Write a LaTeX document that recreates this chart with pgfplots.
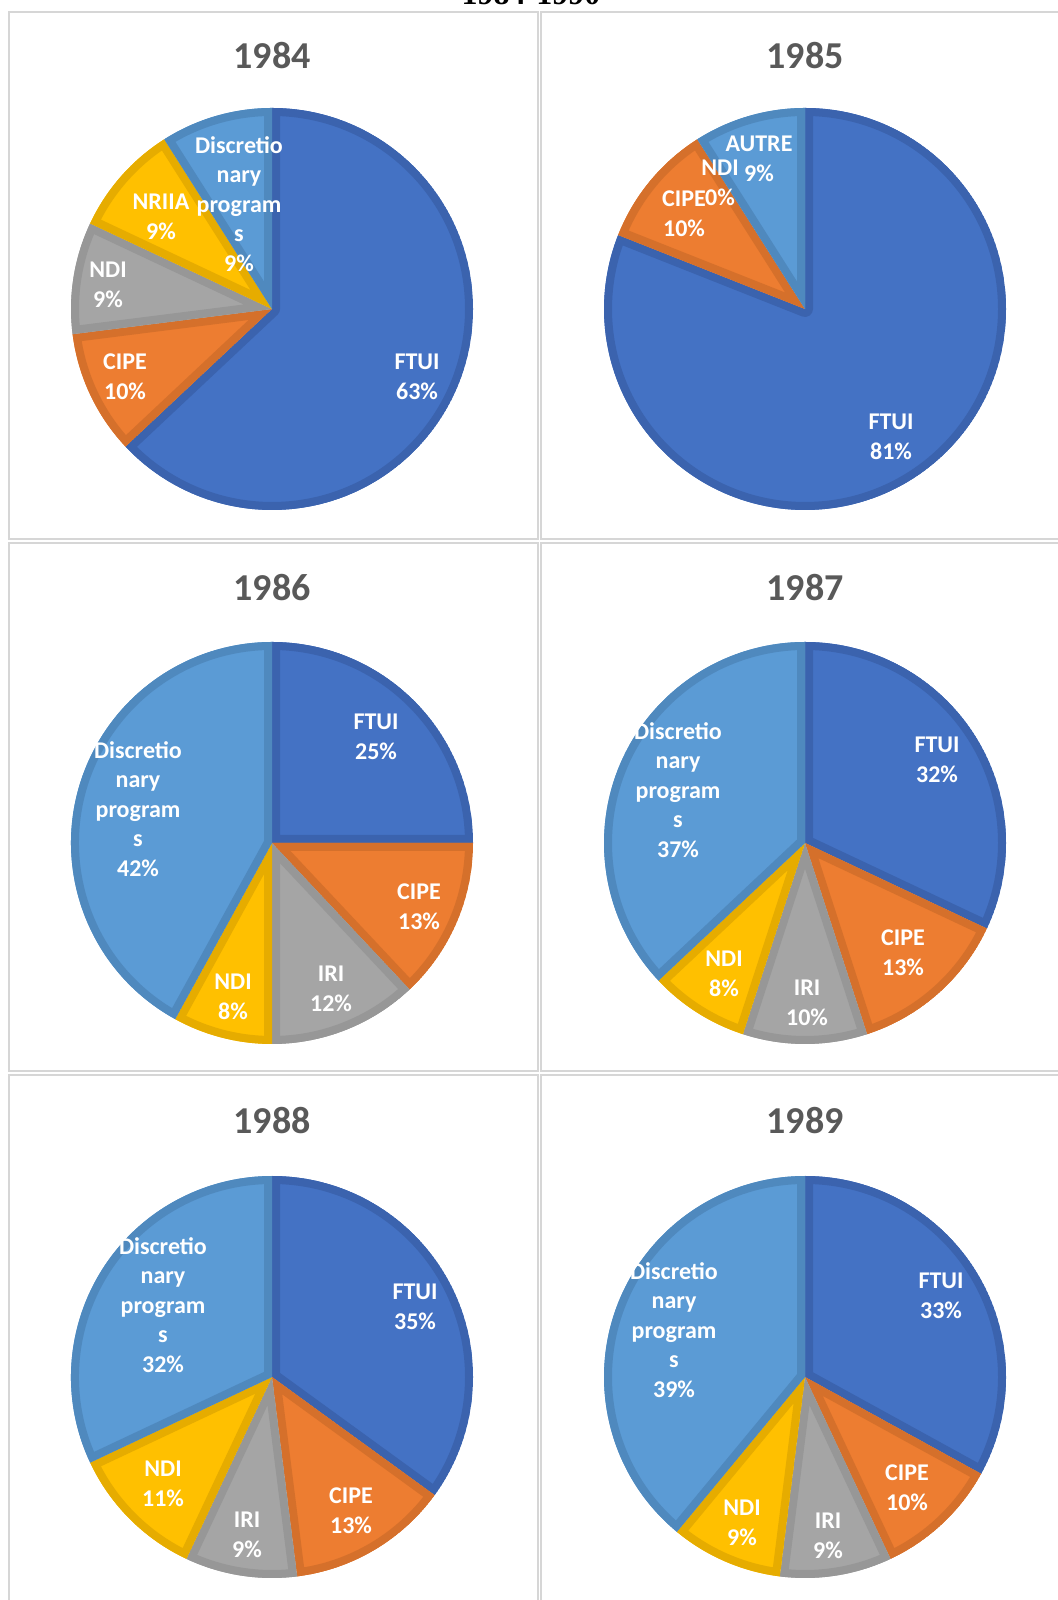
\documentclass[border=0pt]{standalone}
\usepackage{pgfplots}
\pgfplotsset{compat=1.18}
\usepackage{fontspec}
\setmainfont{Liberation Serif}
\newfontfamily\carlito{Carlito}
\definecolor{cB}{HTML}{4472C4}\definecolor{dB}{HTML}{3B63AE}
\definecolor{cO}{HTML}{ED7D31}\definecolor{dO}{HTML}{D5702B}
\definecolor{cG}{HTML}{A5A5A5}\definecolor{dG}{HTML}{979797}
\definecolor{cY}{HTML}{FFC000}\definecolor{dY}{HTML}{E6AC00}
\definecolor{cL}{HTML}{5B9BD5}\definecolor{dL}{HTML}{4F89BE}
\definecolor{gridc}{HTML}{D6D6D6}
\definecolor{ttlc}{HTML}{595959}
% #1 cx, #2 cy (axis units, 1 unit = 1 px), #3 list value/fill/border (clockwise from 12 o'clock)
\newcommand{\pie}[3]{%
 \pgfplotsextra{%
  \gdef\cumul{0}%
  \foreach \v/\c/\d in {#3}{%
   \pgfmathsetmacro\sa{90-3.6*\cumul}%
   \pgfmathsetmacro\sb{90-3.6*(\cumul+\v)}%
   \begin{scope}
    \clip (axis cs:#1,#2) -- ++(\sa:100.5pt) arc[start angle=\sa,end angle=\sb,radius=100.5pt] -- cycle;
    \fill[\c] (axis cs:#1,#2) -- ++(\sa:100.5pt) arc[start angle=\sa,end angle=\sb,radius=100.5pt] -- cycle;
    \draw[\d,line width=8pt,line join=round] (axis cs:#1,#2) -- ++(\sa:100.5pt) arc[start angle=\sa,end angle=\sb,radius=100.5pt] -- cycle;
   \end{scope}
   \pgfmathsetmacro\nc{\cumul+\v}\xdef\cumul{\nc}%
  }%
 }%
}
\begin{document}
\begin{tikzpicture}
\path[use as bounding box] (0,0) rectangle (529pt,800pt);
\clip (0,0) rectangle (529pt,800pt);
\begin{axis}[hide axis, x=0.5pt, y=0.5pt, xmin=0, xmax=1058, ymin=0, ymax=1600,
  clip=false, anchor=origin, at={(0,0)},
  lab/.style={}, ]
% cell borders
\draw[gridc, line width=1pt] (axis cs:9,1588) rectangle (axis cs:538,1061);
\draw[gridc, line width=1pt] (axis cs:541,1588) rectangle (axis cs:1064,1061);
\draw[gridc, line width=1pt] (axis cs:9,1057) rectangle (axis cs:538,529);
\draw[gridc, line width=1pt] (axis cs:541,1057) rectangle (axis cs:1064,529);
\draw[gridc, line width=1pt] (axis cs:9,525) rectangle (axis cs:538,-8);
\draw[gridc, line width=1pt] (axis cs:541,525) rectangle (axis cs:1064,-8);
% main title (cut off at top)
\node[anchor=base, font={\bfseries\fontsize{16}{19}\selectfont}] at (axis cs:531,1595) {1984-1990};
% 1984
\pie{272}{1291}{63/cB/dB, 10/cO/dO, 9/cG/dG, 9/cY/dY, 9/cL/dL}
% 1985
\pie{805}{1291}{81/cB/dB, 10/cO/dO, 9/cL/dL}
% 1986
\pie{272}{757}{25/cB/dB, 13/cO/dO, 12/cG/dG, 8/cY/dY, 42/cL/dL}
% 1987
\pie{805}{757}{32/cB/dB, 13/cO/dO, 10/cG/dG, 8/cY/dY, 37/cL/dL}
% 1988
\pie{272}{223}{35/cB/dB, 13/cO/dO, 9/cG/dG, 11/cY/dY, 32/cL/dL}
% 1989
\pie{805}{223}{33/cB/dB, 10/cO/dO, 9/cG/dG, 9/cY/dY, 39/cL/dL}
% titles
\begin{scope}[every node/.style={text=ttlc, font={\carlito\bfseries\fontsize{19}{23}\selectfont}}]
\node at (axis cs:272,1544) {1984};
\node at (axis cs:805,1544) {1985};
\node at (axis cs:272,1012) {1986};
\node at (axis cs:805,1012) {1987};
\node at (axis cs:272,479) {1988};
\node at (axis cs:805,479) {1989};
\end{scope}
% labels
\begin{scope}[every node/.style={text=white, align=center, inner sep=0pt, font={\carlito\bfseries\fontsize{12}{14.8}\selectfont}}]
\node at (axis cs:239,1396) {Discretio\\nary\\program\\s\\9\%};
\node at (axis cs:161,1383) {NRIIA\\9\%};
\node at (axis cs:108,1315) {NDI\\9\%};
\node at (axis cs:125,1223) {CIPE\\10\%};
\node at (axis cs:417,1223) {FTUI\\63\%};
\node at (axis cs:891,1163) {FTUI\\81\%};
\node at (axis cs:684,1386) {CIPE\\10\%};
\node at (axis cs:720,1417) {NDI\\0\%};
\node at (axis cs:759,1441) {AUTRE\\9\%};
\node at (axis cs:376,863) {FTUI\\25\%};
\node at (axis cs:419,693) {CIPE\\13\%};
\node at (axis cs:331,611) {IRI\\12\%};
\node at (axis cs:233,603) {NDI\\8\%};
\node at (axis cs:138,791) {Discretio\\nary\\program\\s\\42\%};
\node at (axis cs:937,840) {FTUI\\32\%};
\node at (axis cs:903,647) {CIPE\\13\%};
\node at (axis cs:807,597) {IRI\\10\%};
\node at (axis cs:724,626) {NDI\\8\%};
\node at (axis cs:678,810) {Discretio\\nary\\program\\s\\37\%};
\node at (axis cs:415,293) {FTUI\\35\%};
\node at (axis cs:351,89) {CIPE\\13\%};
\node at (axis cs:247,65) {IRI\\9\%};
\node at (axis cs:163,116) {NDI\\11\%};
\node at (axis cs:163,295) {Discretio\\nary\\program\\s\\32\%};
\node at (axis cs:941,304) {FTUI\\33\%};
\node at (axis cs:907,112) {CIPE\\10\%};
\node at (axis cs:828,64) {IRI\\9\%};
\node at (axis cs:742,77) {NDI\\9\%};
\node at (axis cs:674,270) {Discretio\\nary\\program\\s\\39\%};
\end{scope}
\end{axis}
\end{tikzpicture}
\end{document}
